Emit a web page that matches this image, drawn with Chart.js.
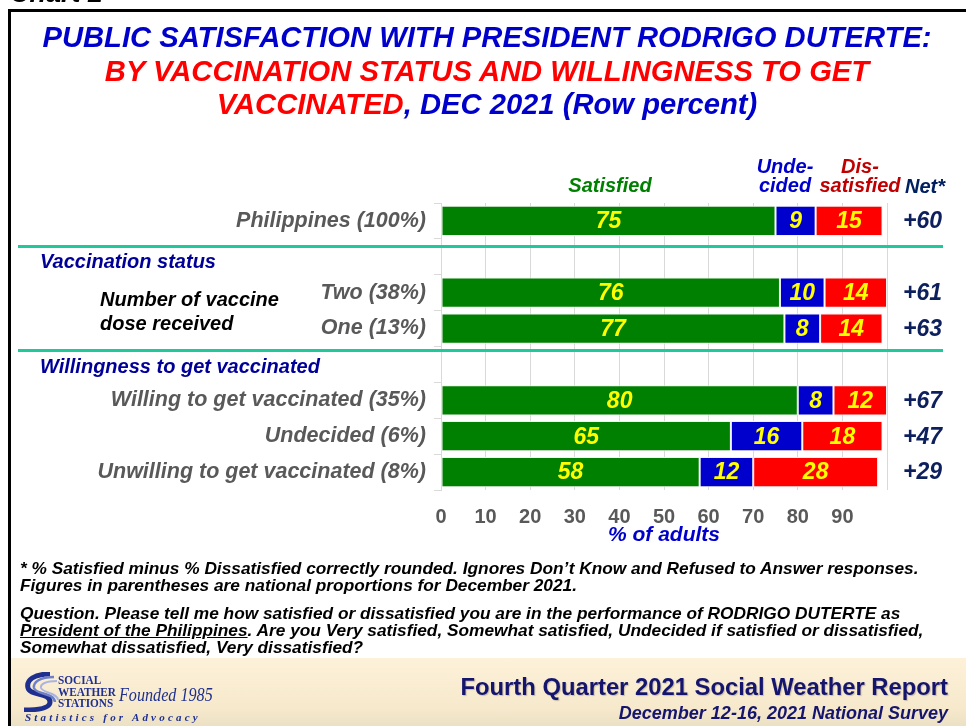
<!DOCTYPE html>
<html>
<head>
<meta charset="utf-8">
<script src="https://cdn.jsdelivr.net/npm/chart.js@4.4.1/dist/chart.umd.min.js"></script>
<style>
  html, body { margin: 0; padding: 0; background: #fff; }
  body { width: 966px; height: 726px; position: relative; overflow: hidden;
         font-family: "Liberation Sans", Arial, sans-serif; }
  #chart { position: absolute; left: 0; top: 0; z-index: 1; }
  .t { position: absolute; font-weight: bold; font-style: italic; white-space: nowrap; z-index: 2; }
  #frame { position: absolute; left: 8px; top: 9px; width: 980px; height: 740px; border: 3px solid #000; }
  #footer { position: absolute; left: 11px; top: 658px; width: 960px; height: 70px;
            background: linear-gradient(#fdf1d9, #f6e9cc 70%, #ece0c4); }
  .ctr { text-align: center; }
</style>
</head>
<body>
<div id="frame"></div>
<div id="footer"></div>
<div class="t" style="left:10px; top:-22px; font-size:27px; color:#000;">Chart 2</div>

<div class="t ctr" style="left:5px; top:21px; width:964px; font-size:29.2px; line-height:33.5px;">
  <span style="color:#0000cc">PUBLIC SATISFACTION WITH PRESIDENT RODRIGO DUTERTE:</span><br>
  <span style="color:#ff0000">BY VACCINATION STATUS AND WILLINGNESS TO GET</span><br>
  <span style="color:#ff0000">VACCINATED</span><span style="color:#0000cc">, DEC 2021 (Row percent)</span>
</div>

<div class="t ctr" style="left:550px; top:173px; width:120px; font-size:20px; line-height:24px; color:#008000;">Satisfied</div>
<div class="t ctr" style="left:735px; top:157px; width:100px; font-size:20px; line-height:19px; color:#0000cc;">Unde-<br>cided</div>
<div class="t ctr" style="left:810px; top:157px; width:100px; font-size:20px; line-height:19px; color:#c00000;">Dis-<br>satisfied</div>
<div class="t ctr" style="left:895px; top:174px; width:60px; font-size:20px; line-height:24px; color:#002060;">Net*</div>

<div class="t" style="left:40px; top:249px; font-size:20px; line-height:24px; color:#000099;">Vaccination status</div>
<div class="t" style="left:100px; top:287px; font-size:20px; line-height:24px; color:#000;">Number of vaccine<br>dose received</div>
<div class="t" style="left:40px; top:354px; font-size:20px; line-height:24px; color:#000099;">Willingness to get vaccinated</div>

<div class="t" style="left:20px; top:560px; font-size:17.3px; line-height:16.5px; color:#000;">
  * % Satisfied minus % Dissatisfied correctly rounded. Ignores Don’t Know and Refused to Answer responses.<br>
  Figures in parentheses are national proportions for December 2021.
</div>
<div class="t" style="left:20px; top:605px; font-size:17.3px; line-height:16.8px; color:#000;">
  Question. Please tell me how satisfied or dissatisfied you are in the performance of RODRIGO DUTERTE as<br>
  <u>President of the Philippines</u>. Are you Very satisfied, Somewhat satisfied, Undecided if satisfied or dissatisfied,<br>
  Somewhat dissatisfied, Very dissatisfied?
</div>

<!-- logo -->
<svg style="position:absolute; left:20px; top:672px; z-index:2" width="40" height="40" viewBox="0 0 40 40">
  <path d="M30 2 C14 2 6 8 8 16 C10 24 30 20 30 30 C30 36 20 38 4 38" fill="none" stroke="#1f2f8f" stroke-width="5"/>
  <path d="M34 5 C20 5 13 10 14 16 C16 23 34 20 35 30" fill="none" stroke="#6f7fc8" stroke-width="2.5"/>
  <path d="M37 9 C26 9 20 12 21 16 C23 21 38 21 38 28" fill="none" stroke="#aab4e0" stroke-width="2"/>
</svg>
<div class="t" style="left:58px; top:675px; font-family:'Liberation Serif',serif; font-style:normal; font-size:12.5px; line-height:11.5px; color:#1f2f8f; transform:scaleX(0.9); transform-origin:left;">SOCIAL<br>WEATHER<br>STATIONS</div>
<div class="t" style="left:119px; top:684px; font-family:'Liberation Serif',serif; font-weight:normal; font-size:19px; color:#1f2f8f; transform:scaleX(0.85); transform-origin:left;">Founded 1985</div>
<div class="t" style="left:25px; top:711px; font-family:'Liberation Serif',serif; font-size:11px; letter-spacing:3.2px; color:#1f2f8f;">Statistics for Advocacy</div>

<div class="t" style="right:18px; top:673px; font-size:23.8px; line-height:28px; font-style:normal; color:#15156e; text-shadow:1px 1px 1px rgba(0,0,0,0.2);">Fourth Quarter 2021 Social Weather Report</div>
<div class="t" style="right:18px; top:702px; font-size:18px; line-height:22px; color:#15156e;">December 12-16, 2021 National Survey</div>

<canvas id="chart" width="966" height="726"></canvas>

<script>
// rows of the chart (blank rows hold the section headings)
var categories = ["Philippines (100%)", "", "Two (38%)", "One (13%)", "",
  "Willing to get vaccinated (35%)", "Undecided (6%)", "Unwilling to get vaccinated (8%)"];
var satisfied    = [75, null, 76, 77, null, 80, 65, 58];
var undecided    = [9, null, 10, 8, null, 8, 16, 12];
var dissatisfied = [15, null, 14, 14, null, 12, 18, 28];
var netScores    = ["+60", null, "+61", "+63", null, "+67", "+47", "+29"];
var xTickMax = 100;

var FONT = "'Liberation Sans', Arial, sans-serif";

var sectionLines = {
  id: "sectionLines",
  afterDraw: function(chart) {
    var ctx = chart.ctx, y = chart.scales.y;
    ctx.save();
    ctx.strokeStyle = "#1fc99a";
    ctx.lineWidth = 3;
    [0.7, 3.6].forEach(function(v) {
      var py = Math.round(y.getPixelForValue(v)) + 0.5;
      ctx.beginPath();
      ctx.moveTo(18, py);
      ctx.lineTo(943, py);
      ctx.stroke();
    });
    ctx.restore();
  }
};

var barLabels = {
  id: "barLabels",
  afterDatasetsDraw: function(chart) {
    var ctx = chart.ctx;
    ctx.save();
    ctx.font = "italic bold 23px " + FONT;
    ctx.textAlign = "center";
    ctx.textBaseline = "middle";
    ctx.fillStyle = "#ffff00";
    chart.data.datasets.forEach(function(ds, d) {
      chart.getDatasetMeta(d).data.forEach(function(bar, i) {
        if (ds.data[i] == null) return;
        ctx.fillText(ds.data[i], (bar.x + bar.base) / 2, bar.y + 1);
      });
    });
    // net column
    ctx.textAlign = "right";
    ctx.fillStyle = "#0d1f5c";
    var y = chart.scales.y;
    netScores.forEach(function(n, i) {
      if (n == null) return;
      ctx.fillText(n, chart.chartArea.right + 55, y.getPixelForValue(i) + 1);
    });
    ctx.restore();
  }
};

new Chart(document.getElementById("chart"), {
  type: "bar",
  data: {
    labels: categories,
    datasets: [
      { label: "Satisfied", data: satisfied, backgroundColor: "#008000" },
      { label: "Undecided", data: undecided, backgroundColor: "#0000cc" },
      { label: "Dissatisfied", data: dissatisfied, backgroundColor: "#ff0000" }
    ]
  },
  options: {
    indexAxis: "y",
    responsive: false,
    animation: false,
    layout: { padding: { top: 203, right: 79, bottom: 176, left: 0 } },
    datasets: {
      bar: { barPercentage: 0.84, categoryPercentage: 1, borderColor: "#f2f2f2", borderWidth: 1, borderSkipped: false }
    },
    plugins: { legend: { display: false }, tooltip: { enabled: false } },
    scales: {
      y: {
        stacked: true,
        grid: { offset: true, drawOnChartArea: false, tickLength: 7, color: "#d9d9d9" },
        border: { color: "#d9d9d9" },
        ticks: { color: "#595959", padding: 8, font: { family: FONT, size: 21.5, weight: "bold", style: "italic" } },
        afterFit: function(s) { s.width = 441; }
      },
      x: {
        stacked: true,
        min: 0,
        max: xTickMax,
        grid: { color: "#d9d9d9", drawTicks: false },
        border: { display: false },
        ticks: {
          stepSize: 10, padding: 15, color: "#595959",
          font: { family: FONT, size: 20, weight: "bold" },
          callback: function(v) { return v === xTickMax ? "" : v; }
        },
        title: {
          display: true, text: "% of adults", color: "#0000cc",
          font: { family: FONT, size: 21, weight: "bold", style: "italic" },
          padding: { top: 0, bottom: 2 }
        },
        afterFit: function(s) { s.height = 60; }
      }
    }
  },
  plugins: [sectionLines, barLabels]
});
</script>
</body>
</html>
